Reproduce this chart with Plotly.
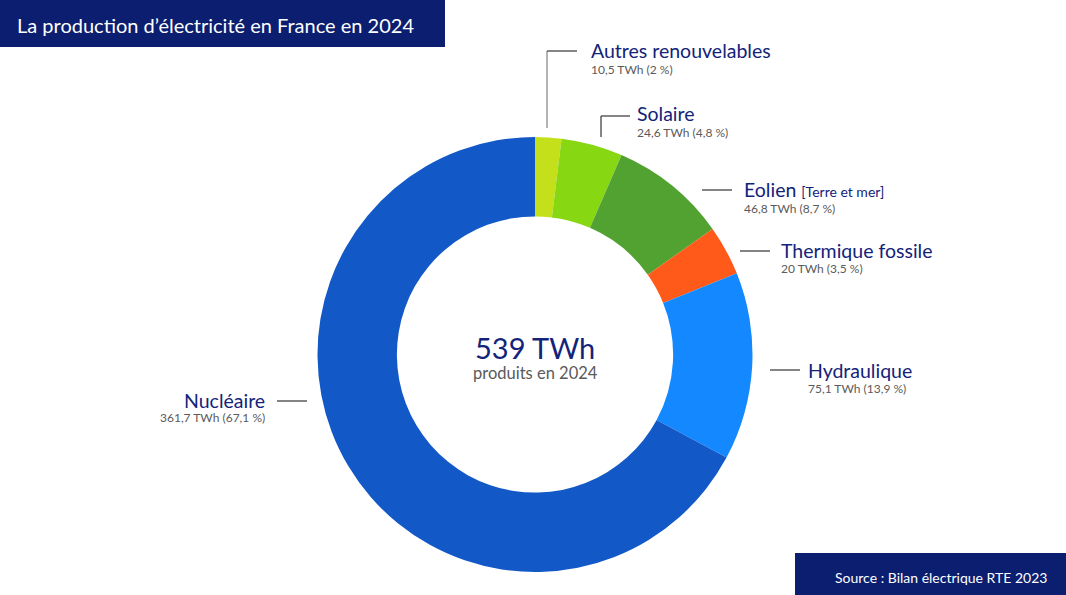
import plotly.graph_objects as go

# ---- data ----
sources = ["Autres renouvelables", "Solaire", "Eolien", "Thermique fossile", "Hydraulique", "Nucléaire"]
twh = [10.5, 24.6, 46.8, 20.0, 75.1, 361.7]
value_labels = ["10,5 TWh (2 %)", "24,6 TWh (4,8 %)", "46,8 TWh (8,7 %)",
                "20 TWh (3,5 %)", "75,1 TWh (13,9 %)", "361,7 TWh (67,1 %)"]
colors = ["#C3E01B", "#88D713", "#52A232", "#FF5A19", "#1489FF", "#1259C7"]
total_label = "539 TWh"
total_sub = "produits en 2024"
title_text = "La production d’électricité en France en 2024"
source_text = "Source : Bilan électrique RTE 2023"

W, H = 1066, 595
NAVY = "#0B1E6F"
LABEL = "#13237A"
GREY = "#5A5A5A"
FONT = "Lato"

def px(x):
    return x / W

def py(y):
    return 1 - y / H

cx, cy, r = 535, 354.5, 217.5

fig = go.Figure()
fig.add_trace(go.Pie(
    labels=sources, values=twh, sort=False, direction="clockwise", rotation=0,
    hole=0.635, marker=dict(colors=colors, line=dict(width=0)),
    textinfo="none", hoverinfo="label+value", showlegend=False,
    domain=dict(x=[px(cx - r), px(cx + r)], y=[py(cy + r), py(cy - r)]),
))

shapes = []
annotations = []

# title box
shapes.append(dict(type="rect", xref="paper", yref="paper", x0=0, x1=px(445), y0=py(47), y1=1,
                   fillcolor=NAVY, line=dict(width=0), layer="above"))
annotations.append(dict(text=title_text, x=px(16), y=py(25), xref="paper", yref="paper",
                        xanchor="left", yanchor="middle", showarrow=False, borderpad=0,
                        font=dict(family=FONT, size=20, color="white")))
# source box
shapes.append(dict(type="rect", xref="paper", yref="paper", x0=px(795), x1=1, y0=0, y1=py(553),
                   fillcolor=NAVY, line=dict(width=0), layer="above"))
annotations.append(dict(text=source_text, x=px(1048), y=py(577), xref="paper", yref="paper",
                        xanchor="right", yanchor="middle", showarrow=False, borderpad=0,
                        font=dict(family=FONT, size=14, color="white")))

# centre
annotations.append(dict(text=total_label, x=px(cx), y=py(347), xref="paper", yref="paper",
                        xanchor="center", yanchor="middle", showarrow=False, borderpad=0,
                        font=dict(family=FONT, size=29, color=LABEL)))
annotations.append(dict(text=total_sub, x=px(cx), y=py(373), xref="paper", yref="paper",
                        xanchor="center", yanchor="middle", showarrow=False, borderpad=0,
                        font=dict(family=FONT, size=16.5, color=GREY)))

# label layout (pixel positions of label text and leader lines)
label_layout = [
    # (text x, title y, value y, anchor, leader line path)
    (590, 50, 69, "left", [(547, 128), (547, 51), (577, 51)]),
    (636, 114, 132, "left", [(601, 137), (601, 116), (630, 116)]),
    (743, 190, 208, "left", [(702, 190), (732, 190)]),
    (780, 250, 268, "left", [(740, 251), (770, 251)]),
    (807, 370, 388, "left", [(770, 370), (800, 370)]),
    (266, 400, 418, "right", [(277, 401), (307, 401)]),
]

for i, (name, val) in enumerate(zip(sources, value_labels)):
    tx, ty, vy, anc, path = label_layout[i]
    title = name
    if name == "Eolien":
        title = "Eolien <span style='font-size:14px'>[Terre et mer]</span>"
    annotations.append(dict(text=title, x=px(tx), y=py(ty), xref="paper", yref="paper",
                            xanchor=anc, yanchor="middle", showarrow=False, borderpad=0,
                            font=dict(family=FONT, size=19.5, color=LABEL)))
    annotations.append(dict(text=val, x=px(tx), y=py(vy), xref="paper", yref="paper",
                            xanchor=anc, yanchor="middle", showarrow=False, borderpad=0,
                            font=dict(family=FONT, size=12, color=GREY)))
    if len(path) == 3:
        v = "M " + " L ".join(f"{px(x)},{py(y)}" for x, y in path[:2])
        h = "M " + " L ".join(f"{px(x)},{py(y)}" for x, y in path[1:])
        shapes.append(dict(type="path", xref="paper", yref="paper", path=v,
                           line=dict(color="#8C8C8C" if i == 0 else "#444444", width=1.3)))
        shapes.append(dict(type="path", xref="paper", yref="paper", path=h,
                           line=dict(color="#444444", width=1.3)))
    else:
        d = "M " + " L ".join(f"{px(x)},{py(y)}" for x, y in path)
        shapes.append(dict(type="path", xref="paper", yref="paper", path=d,
                           line=dict(color="#333333", width=1.2)))

fig.update_layout(
    width=W, height=H, margin=dict(l=0, r=0, t=0, b=0),
    paper_bgcolor="white", plot_bgcolor="white",
    shapes=shapes, annotations=annotations,
)
fig.write_html("out.html", config={"displayModeBar": False},
               post_script="document.body.style.margin='0';")
